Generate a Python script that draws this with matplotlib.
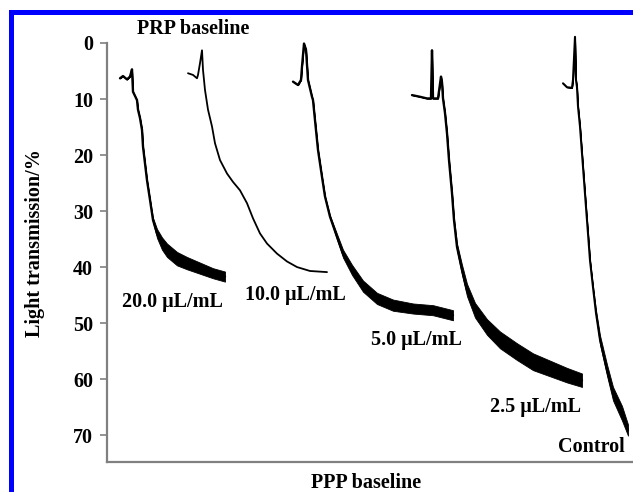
import matplotlib
matplotlib.use("Agg")
import matplotlib.pyplot as plt
from matplotlib.patches import Rectangle
import numpy as np

W, H = 633, 492

# ---- data (time in arbitrary units, light transmission in %) ----
t_20 = [13, 16, 20, 23, 25, 26, 30, 31, 33, 35, 36, 38, 40, 43, 46, 50, 55, 60, 70, 80, 93, 106, 118]
y_20 = [6.3, 5.9, 6.5, 6.0, 4.7, 8.7, 10.2, 11.9, 13.4, 15.5, 18.5, 21.5, 24.5, 28.0, 31.6, 34.0, 35.8,
        37.0, 38.5, 39.3, 40.2, 41.1, 41.7]
w_20 = [0, 0, 0, 0, 0, 0, 0, 0, 0, 0, 0, 0, 0, 0, 0.4, 0.8, 1.1, 1.2, 1.2, 1.1, 1.0, 0.9, 0.9]

t_10 = [81, 86, 90, 91, 93, 95, 96, 98, 101, 105, 108, 113, 120, 126, 133, 140, 146, 153, 160, 170,
        180, 190, 203, 220]
y_10 = [5.4, 5.7, 6.3, 5.7, 3.6, 1.3, 4.8, 8.4, 11.9, 14.9, 17.9, 20.9, 23.3, 24.8, 26.3, 28.6, 31.3,
        34.0, 35.8, 37.6, 39.0, 40.0, 40.7, 40.9]

t_5 = [186, 191, 194, 195, 197, 199, 201, 205, 206, 208, 211, 215, 218, 223, 230, 236, 245, 256, 270,
       286, 306, 326, 346]
y_5 = [6.9, 7.5, 6.6, 4.2, 0.1, 1.2, 6.6, 9.6, 10.2, 13.8, 19.1, 23.9, 27.4, 31.0, 34.6, 37.6, 40.5,
       43.4, 45.6, 46.8, 47.4, 47.7, 48.6]
w_5 = [0, 0, 0, 0, 0, 0, 0, 0, 0, 0, 0, 0, 0, 0.2, 0.5, 0.7, 0.9, 1.0, 1.0, 1.0, 0.9, 0.9, 0.9]

t_25 = [305, 313, 320, 324, 325, 326, 331, 334, 335, 336, 338, 340, 342, 345, 347, 350, 355, 360, 368,
        380, 393, 410, 426, 443, 460, 475]
y_25 = [9.3, 9.6, 9.9, 9.9, 1.3, 9.9, 9.9, 6.0, 7.0, 9.9, 12.5, 16.1, 20.9, 26.8, 31.6, 36.4, 40.5,
        44.1, 47.7, 50.7, 53.0, 55.1, 56.9, 58.1, 59.3, 60.2]
w_25 = [0, 0, 0, 0, 0, 0, 0, 0, 0, 0, 0, 0, 0, 0, 0.3, 0.6, 0.9, 1.1, 1.3, 1.4, 1.5, 1.5, 1.5, 1.4,
        1.3, 1.2]

t_c = [456, 460, 465, 466, 468, 469, 470, 471, 473, 475, 477, 479, 481, 483, 486, 489, 493, 500, 506,
       515, 521]
y_c = [7.2, 7.9, 8.0, 6.6, -1.1, 6.6, 7.9, 11.3, 14.9, 19.7, 24.5, 29.3, 34.0, 38.8, 43.6, 48.2, 53.0,
       58.4, 62.6, 66.1, 69.1]
w_c = [0, 0, 0, 0, 0, 0, 0, 0, 0, 0, 0, 0, 0, 0, 0.2, 0.5, 0.8, 1.0, 1.2, 1.3, 1.0]

y_ticks = [0, 10, 20, 30, 40, 50, 60, 70]

labels = ["20.0 μL/mL", "10.0 μL/mL", "5.0 μL/mL", "2.5 μL/mL", "Control"]
label_pos = [(65, 46.3), (188, 45.0), (309, 53.0), (428, 65.0), (484, 72.1)]

# ---- figure ----
fig = plt.figure(figsize=(W / 100, H / 100), dpi=100)
fig.patch.set_facecolor("white")
ax = fig.add_axes([107 / W, 1 - 462 / H, (W - 107) / W, (462 - 43) / H])

serif = ["Liberation Serif", "DejaVu Serif"]
fw = "bold"
fs = 14.5

def draw(t, y, w=None, lw=1.6):
    t = np.array(t, float)
    y = np.array(y, float)
    ax.plot(t, y, color="black", lw=lw, clip_on=False, solid_joinstyle="round",
            solid_capstyle="round")
    if w is not None:
        w = np.array(w, float)
        ax.fill_between(t, y - w, y + w, color="black", lw=0.6, edgecolor="black",
                        clip_on=False)

draw(t_20, y_20, w_20, lw=1.7)
draw(t_10, y_10, None, lw=1.3)
draw(t_5, y_5, w_5, lw=1.7)
draw(t_25, y_25, w_25, lw=1.7)
draw(t_c, y_c, w_c, lw=1.5)

ax.set_xlim(0, W - 107)
ax.set_ylim(74.8, 0)
ax.set_xticks([])
ax.set_yticks(y_ticks)
ax.set_yticklabels([str(v) for v in y_ticks], family=serif, fontweight=fw, fontsize=fs)
ax.tick_params(axis="y", direction="out", length=5, width=1.2, color="#808080", pad=5)

for s in ["top", "right"]:
    ax.spines[s].set_visible(False)
for s in ["left", "bottom"]:
    ax.spines[s].set_color("#808080")
    ax.spines[s].set_linewidth(1.6)

for txt, (x, y) in zip(labels, label_pos):
    ax.text(x, y, txt, ha="center", va="center", family=serif, fontweight=fw,
            fontsize=fs, clip_on=False)

fig.text(193 / W, 1 - 29 / H, "PRP baseline", ha="center", va="center",
         family=serif, fontweight=fw, fontsize=fs)
fig.text(366 / W, 1 - 483 / H, "PPP baseline", ha="center", va="center",
         family=serif, fontweight=fw, fontsize=fs)
fig.text(35 / W, 1 - 243 / H, "Light transmission/%", ha="center", va="center",
         rotation=90, family=serif, fontweight=fw, fontsize=fs)

# blue frame (top and left)
fig.add_artist(Rectangle((9 / W, 1 - 15 / H), (W - 9) / W, 5 / H,
                         transform=fig.transFigure, color="#0000ff", lw=0))
fig.add_artist(Rectangle((9 / W, 0), 5 / W, 1 - 10 / H,
                         transform=fig.transFigure, color="#0000ff", lw=0))

fig.savefig("out.png", dpi=100)
